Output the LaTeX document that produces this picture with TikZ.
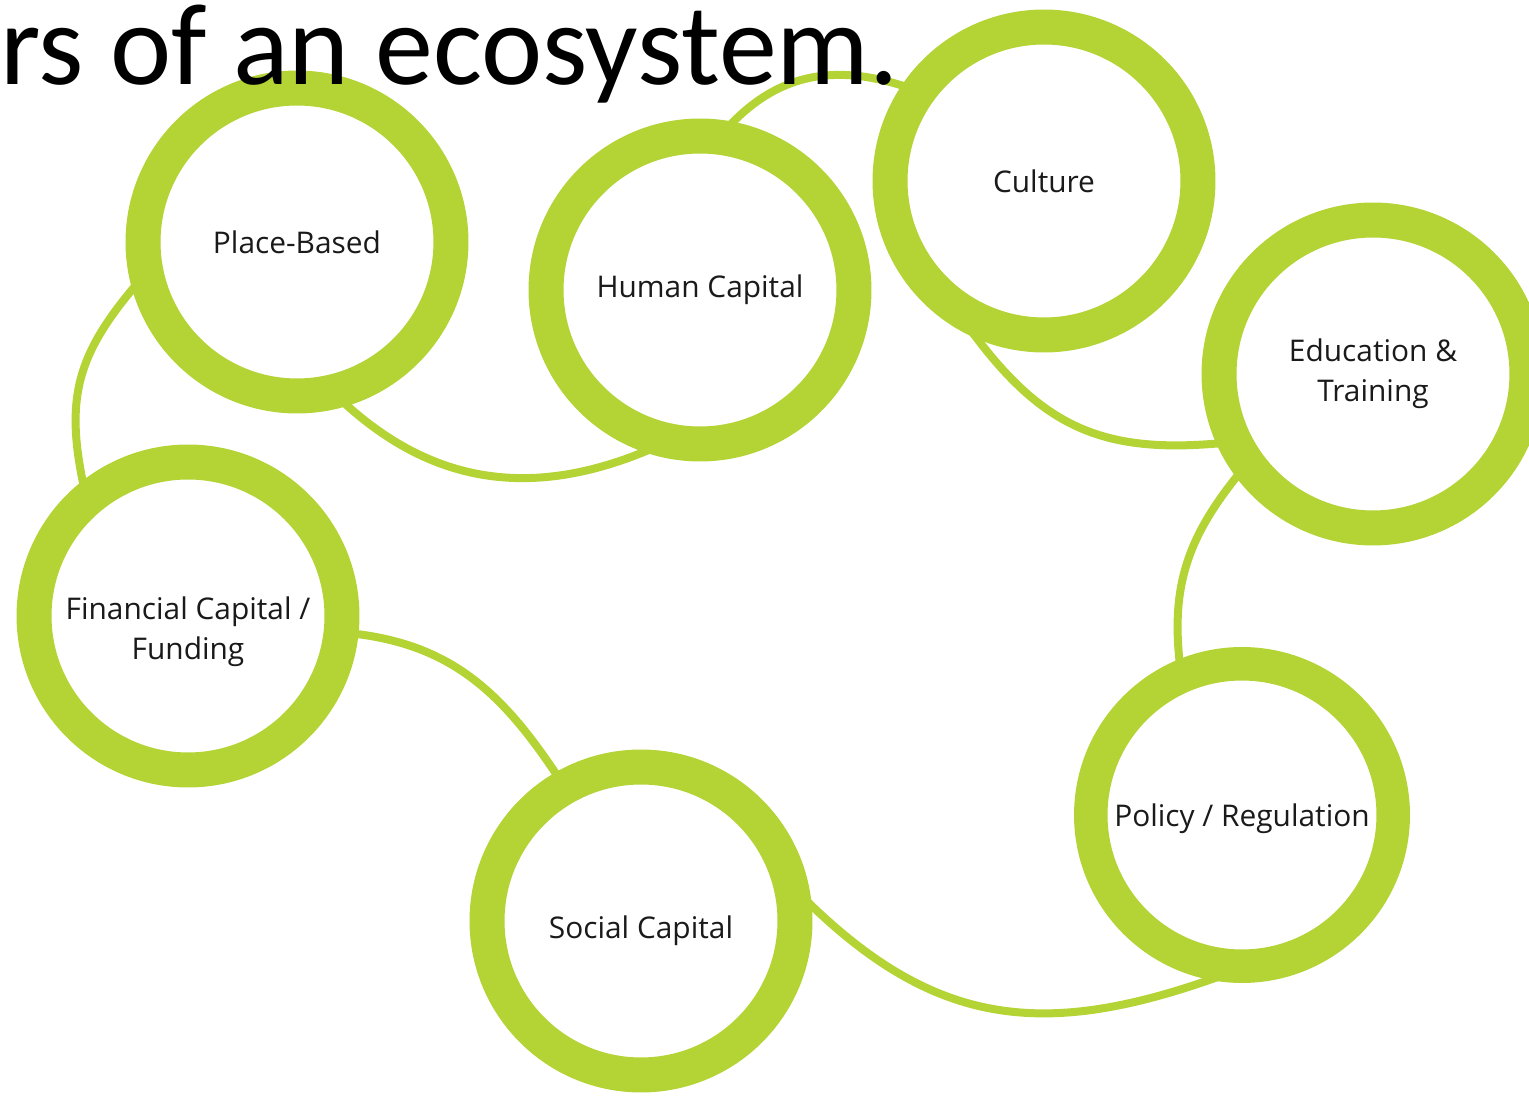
\documentclass[tikz,border=0pt]{standalone}
\usepackage{fontspec}
\setmainfont{Open Sans}
\newfontfamily\titlefont{Carlito}
\usepackage{xcolor}
\usepackage{tikz}
\usetikzlibrary{backgrounds}
\definecolor{ecogreen}{HTML}{B4D335}
\definecolor{ecotext}{HTML}{1A1A1A}

\begin{document}
\begin{tikzpicture}[x=0.02cm,y=0.02cm,
    factor/.style={circle,draw=ecogreen,line width=0.7cm,fill=white,
      minimum size=6.16cm,inner sep=0pt,align=center,text=ecotext,
      font=\fontsize{17}{23}\selectfont},
    link/.style={draw=ecogreen,line width=0.16cm,
      shorten <=-0.3cm,shorten >=-0.3cm}]
    \useasboundingbox (0,0) rectangle (1529,-1097);
    \clip (0,0) rectangle (1529,-1097);

    % the seven factors
    \node[factor] (pb) at (297,-242) {Place-Based};
    \node[factor] (hc) at (700,-290) {Human Capital};
    \node[factor] (cu) at (1044,-181) {Culture};
    \node[factor] (ed) at (1373,-374) {Education \&\\Training};
    \node[factor,text height=54pt] (fc) at (188,-616) {Financial Capital /\\Funding};
    \node[factor,text height=24pt] (sc) at (641,-921) {Social Capital};
    \node[factor,minimum size=6.05cm,line width=0.67cm,text height=17pt] (pr)
      at (1242,-815) {Policy / Regulation};

    % thin arcs tucked under the rings
    \begin{pgfonlayer}{background}
      \draw[link] (pb.196) to[out=229,in=103,looseness=1.1] (fc.128);
      \draw[link] (pb.287) to[out=316,in=204] (hc.251);
      \draw[link] (hc.79) to[out=49,in=160] (cu.146);
      \draw[link] (cu.247) to[out=306,in=186,looseness=1.1] (ed.204);
      \draw[link] (ed.217) to[out=230,in=98] (pr.112);
      \draw[link] (sc.5) to[out=315,in=200,looseness=1.1] (pr.259);
      \draw[link] (fc.354) to[out=-5,in=123] (sc.120);
    \end{pgfonlayer}

    \node[anchor=base west,inner sep=0pt,font=\titlefont\fontsize{66}{74}\selectfont]
      (title) at (0,-85) {rs of an ecosystem.};
  \end{tikzpicture}
\end{document}
